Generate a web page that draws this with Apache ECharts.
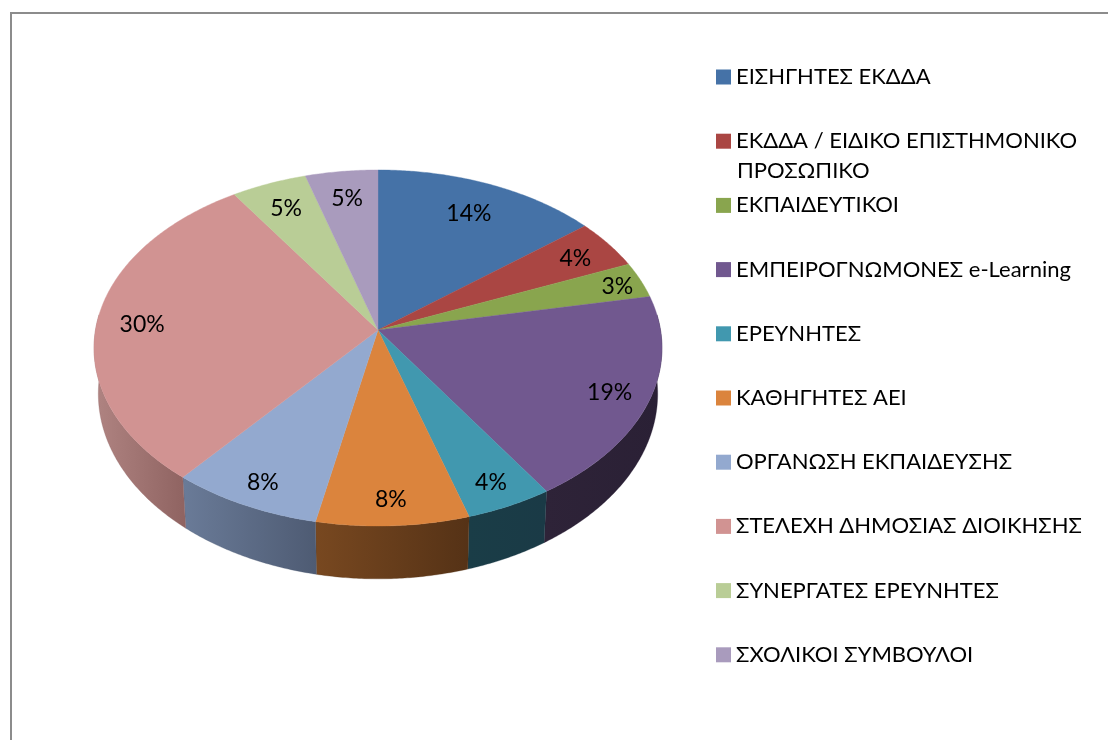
<!DOCTYPE html>
<html><head><meta charset="utf-8">
<style>html,body{margin:0;padding:0;background:#fff}#c{width:1108px;height:740px}</style>
<script src="https://cdn.jsdelivr.net/npm/echarts@6/dist/echarts.min.js"></script>
</head><body><div id="c"></div>
<script>
const categories = ["ΕΙΣΗΓΗΤΕΣ ΕΚΔΔΑ","ΕΚΔΔΑ / ΕΙΔΙΚΟ ΕΠΙΣΤΗΜΟΝΙΚΟ ΠΡΟΣΩΠΙΚΟ","ΕΚΠΑΙΔΕΥΤΙΚΟΙ","ΕΜΠΕΙΡΟΓΝΩΜΟΝΕΣ e-Learning","ΕΡΕΥΝΗΤΕΣ","ΚΑΘΗΓΗΤΕΣ ΑΕΙ","ΟΡΓΑΝΩΣΗ ΕΚΠΑΙΔΕΥΣΗΣ","ΣΤΕΛΕΧΗ ΔΗΜΟΣΙΑΣ ΔΙΟΙΚΗΣΗΣ","ΣΥΝΕΡΓΑΤΕΣ ΕΡΕΥΝΗΤΕΣ","ΣΧΟΛΙΚΟΙ ΣΥΜΒΟΥΛΟΙ"];
const values = [14.2,4.45,3.25,18.9,4.49,7.9,7.8,29.7,4.75,4.55];
const labelRadius = [0.8,0.85,0.91,0.86,0.87,0.87,0.87,0.84,0.83,0.83];
const topColors = ["#4572a7","#aa4643","#89a54e","#71588f","#4198af","#db843d","#93a9cf","#d19392","#b9cd96","#a99bbd"];
const wallStart = ["#2d4a6e","#6e2d2b","#596b32","#2e2338","#1a3d47","#784820","#6a7b98","#b08482","#78855f","#6e6480"];
const wallEnd   = ["#2d4a6e","#6e2d2b","#596b32","#2a2035","#1a3a46","#553216","#4e5b73","#8f6361","#78855f","#6e6480"];
const FONT = "Lato, 'Noto Sans', sans-serif";
const CX=378, CY=330, RX=282.5, RY=176.2, K=0.1011, WALL_SCALE=0.985;
const total = values.reduce((a,b)=>a+b,0);
const starts = values.map((v,i)=>values.slice(0,i).reduce((a,b)=>a+b,0)/total*360);
function project(deg,f){
  const t=deg*Math.PI/180, X=f*Math.sin(t), Y=-f*Math.cos(t), w=1-K*Y;
  return [CX+RX*X/w, CY+RY*Y/w];
}
function arcPts(a,b){
  const n=Math.max(2,Math.ceil((b-a)/0.5)), p=[];
  for(let i=0;i<=n;i++) p.push(project(a+(b-a)*i/n,1));
  return p;
}
function wallPt(p){ return [CX+(p[0]-CX)*WALL_SCALE, p[1]+45+0.04*(p[1]-CY)]; }
function render(idx){
  return function(){
    const a=starts[idx], b=a+values[idx]/total*360;
    const children=[];
    const wa=Math.max(a,85), wb=Math.min(b,275);
    if(wb>wa){
      const rim=arcPts(wa,wb);
      const low=rim.map(wallPt).reverse();
      children.push({type:'polygon',z2:1,shape:{points:rim.concat(low)},
        style:{fill:{type:'linear',x:0,y:0,x2:1,y2:0,colorStops:[{offset:0,color:wallStart[idx]},{offset:1,color:wallEnd[idx]}]},stroke:wallEnd[idx],lineWidth:0.3}});
    }
    children.push({type:'polygon',z2:10,shape:{points:[[CX,CY]].concat(arcPts(a,b))},
      style:{fill:topColors[idx],stroke:topColors[idx],lineWidth:0.4}});
    const lp=project((a+b)/2,labelRadius[idx]);
    children.push({type:'text',z2:20,x:lp[0],y:lp[1]+2,
      style:{text:Math.round(values[idx])+'%',fill:'#000',font:"23px "+FONT,align:'center',verticalAlign:'middle'}});
    return {type:'group',children};
  };
}
const series=categories.map((name,i)=>({type:'custom',name,coordinateSystem:'none',silent:true,animation:false,
  itemStyle:{color:topColors[i]},data:[[values[i]]],renderItem:render(i)}));
const chart=echarts.init(document.getElementById('c'),null,{renderer:'canvas'});
chart.setOption({
  backgroundColor:'#fff',animation:false,
  legend:{orient:'vertical',left:716,top:66,padding:0,icon:'rect',itemWidth:15,itemHeight:15,itemGap:42.2,selectedMode:false,
    data:categories.map((name,i)=>({name,itemStyle:{color:topColors[i]}})),
    formatter:n=>n.replace(' ΠΡΟΣΩΠΙΚΟ',''),
    textStyle:{fontFamily:FONT,fontSize:22,color:'#000',lineHeight:22}},
  graphic:[
    {type:'rect',shape:{x:10,y:12,width:2,height:728},style:{fill:'#8c8c8c'},silent:true},
    {type:'rect',shape:{x:10,y:12,width:1098,height:2},style:{fill:'#8c8c8c'},silent:true},
    {type:'text',x:737,y:171,style:{text:'ΠΡΟΣΩΠΙΚΟ',font:"22px "+FONT,fill:'#000',verticalAlign:'middle'},silent:true}
  ],
  series
});
</script></body></html>
